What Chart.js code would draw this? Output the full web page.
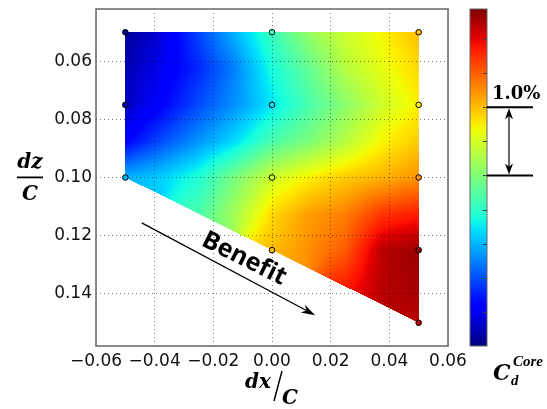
<!DOCTYPE html>
<html>
<head>
<meta charset="utf-8">
<script src="https://cdn.jsdelivr.net/npm/chart.js@4.4.0/dist/chart.umd.min.js"></script>
<style>
  html, body { margin: 0; padding: 0; background: #fff; }
  #wrap { width: 547px; height: 409px; }
</style>
</head>
<body>
<div id="wrap"><canvas id="chart"></canvas></div>
<script>
// colour field: C_d core (%) on a dx/C x dz/C grid, null = outside the tested region
const gridX = [-0.05, -0.0375, -0.025, -0.0125, 0, 0.0125, 0.025, 0.0375, 0.05];
const gridZ = [0.05, 0.0625, 0.075, 0.0875, 0.1, 0.1125, 0.125, 0.1375, 0.15];
const cdGrid = [
  [0.10, 0.40, 0.95, 1.50, 2.07, 2.62, 2.96, 3.21, 3.51],
  [0.22, 0.50, 0.80, 1.25, 1.88, 2.32, 2.82, 3.11, 3.36],
  [0.28, 0.60, 0.98, 1.33, 1.73, 2.17, 2.57, 2.96, 3.24],
  [0.59, 0.99, 1.33, 1.68, 2.17, 2.47, 2.82, 3.21, 3.43],
  [1.48, 1.63, 1.93, 2.47, 2.96, 3.24, 3.43, 3.56, 3.73],
  [null, null, 2.17, 2.72, 3.36, 3.66, 3.83, 4.22, 4.35],
  [null, null, null, null, 3.51, 3.75, 4.03, 4.69, 4.84],
  [null, null, null, null, null, null, 4.35, 4.69, 4.79],
  [null, null, null, null, null, null, null, null, 4.69]
];

// measured positions (black circles)
const pointX = [-0.05, -0.05, -0.05, 0, 0, 0, 0, 0.05, 0.05, 0.05, 0.05, 0.05];
const pointZ = [0.05, 0.075, 0.1, 0.05, 0.075, 0.1, 0.125, 0.05, 0.075, 0.1, 0.125, 0.15];

const xTicks = [-0.06, -0.04, -0.02, 0, 0.02, 0.04, 0.06];
const zTicks = [0.06, 0.08, 0.10, 0.12, 0.14];
const cbTicks = [0.5, 1, 1.5, 2, 2.5, 3, 3.5, 4, 4.5];
const cbMin = 0, cbMax = 4.94;
const spanLow = 2.5, spanHigh = 3.5; // the "1.0%" bracket on the colour bar

// matplotlib jet
const R = [[0, 0], [0.35, 0], [0.66, 1], [0.89, 1], [1, 0.5]];
const G = [[0, 0], [0.125, 0], [0.375, 1], [0.64, 1], [0.91, 0], [1, 0]];
const B = [[0, 0.5], [0.11, 1], [0.34, 1], [0.65, 0], [1, 0]];
function seg(pts, t) {
  for (let i = 1; i < pts.length; i++) {
    if (t <= pts[i][0]) {
      const [x0, y0] = pts[i - 1], [x1, y1] = pts[i];
      return y0 + (y1 - y0) * (t - x0) / (x1 - x0);
    }
  }
  return pts[pts.length - 1][1];
}
function jet(v) {
  const t = Math.min(1, Math.max(0, (v - cbMin) / (cbMax - cbMin)));
  return [seg(R, t), seg(G, t), seg(B, t)].map(c => Math.round(c * 255));
}
const rgb = c => 'rgb(' + c.join(',') + ')';

// lower edge of the region: deepest measured dz at each dx column, joined by straight lines
const cols = [...new Set(pointX)].sort((a, b) => a - b);
const colDepth = cols.map(cx => Math.max(...pointZ.filter((z, i) => pointX[i] === cx)));
function inside(x, z) {
  if (x < cols[0] || x > cols[cols.length - 1] || z < gridZ[0]) return false;
  for (let i = 1; i < cols.length; i++) {
    if (x <= cols[i]) {
      const f = (x - cols[i - 1]) / (cols[i] - cols[i - 1]);
      return z <= colDepth[i - 1] + f * (colDepth[i] - colDepth[i - 1]);
    }
  }
  return false;
}

// bilinear lookup that skips missing corners
function cdAt(x, z) {
  const dx = gridX[1] - gridX[0], dz = gridZ[1] - gridZ[0];
  let fx = (x - gridX[0]) / dx, fz = (z - gridZ[0]) / dz;
  let i0 = Math.min(gridX.length - 2, Math.max(0, Math.floor(fx)));
  let j0 = Math.min(gridZ.length - 2, Math.max(0, Math.floor(fz)));
  const tx = fx - i0, tz = fz - j0;
  let sum = 0, wsum = 0;
  [[0, 0], [1, 0], [0, 1], [1, 1]].forEach(([a, b]) => {
    const v = cdGrid[j0 + b][i0 + a];
    if (v === null) return;
    const w = (a ? tx : 1 - tx) * (b ? tz : 1 - tz) + 1e-6;
    sum += v * w; wsum += w;
  });
  return wsum ? sum / wsum : null;
}

function arrowHead(ctx, x0, y0, x1, y1, len, half) {
  const ang = Math.atan2(y1 - y0, x1 - x0);
  ctx.save();
  ctx.translate(x1, y1);
  ctx.rotate(ang);
  ctx.beginPath();
  ctx.moveTo(0, 0);
  ctx.lineTo(-len, -half);
  ctx.lineTo(-len * 0.7, 0);
  ctx.lineTo(-len, half);
  ctx.closePath();
  ctx.fill();
  ctx.restore();
}

const fieldPlugin = {
  id: 'field',
  beforeDraw(chart) {
    const { ctx, chartArea: a, scales: { x, y } } = chart;
    ctx.save();
    ctx.fillStyle = '#fff';
    ctx.fillRect(0, 0, chart.width, chart.height);
    ctx.restore();
    const w = Math.round(a.right - a.left), h = Math.round(a.bottom - a.top);
    const off = document.createElement('canvas');
    off.width = w; off.height = h;
    const octx = off.getContext('2d');
    const img = octx.createImageData(w, h);
    for (let j = 0; j < h; j++) {
      const zv = y.getValueForPixel(a.top + j + 0.5);
      for (let i = 0; i < w; i++) {
        const xv = x.getValueForPixel(a.left + i + 0.5);
        if (!inside(xv, zv)) continue;
        const v = cdAt(xv, zv);
        if (v === null) continue;
        const c = jet(v);
        const k = (j * w + i) * 4;
        img.data[k] = c[0]; img.data[k + 1] = c[1]; img.data[k + 2] = c[2]; img.data[k + 3] = 255;
      }
    }
    octx.putImageData(img, 0, 0);
    ctx.drawImage(off, a.left, a.top);
  }
};

const overlayPlugin = {
  id: 'overlay',
  afterDraw(chart) {
    const { ctx, chartArea: a, scales: { x, y, c } } = chart;
    ctx.save();

    // frame
    ctx.strokeStyle = '#666';
    ctx.lineWidth = 1.5;
    ctx.strokeRect(a.left, a.top, a.right - a.left, a.bottom - a.top);

    // colour bar
    const cbL = a.right + 22, cbR = a.right + 39;
    const top = c.getPixelForValue(cbMax), bot = c.getPixelForValue(cbMin);
    const grad = ctx.createLinearGradient(0, bot, 0, top);
    for (let s = 0; s <= 60; s++) {
      const v = cbMin + (cbMax - cbMin) * s / 60;
      grad.addColorStop(s / 60, rgb(jet(v)));
    }
    ctx.fillStyle = grad;
    ctx.fillRect(cbL, top, cbR - cbL, bot - top);
    ctx.strokeStyle = '#666';
    ctx.lineWidth = 1;
    ctx.strokeRect(cbL, top, cbR - cbL, bot - top);
    ctx.strokeStyle = '#444';
    cbTicks.forEach(t => {
      const py = Math.round(c.getPixelForValue(t)) + 0.5;
      ctx.beginPath(); ctx.moveTo(cbR - 4, py); ctx.lineTo(cbR, py); ctx.stroke();
    });

    // 1.0% bracket
    const yHi = c.getPixelForValue(spanHigh), yLo = c.getPixelForValue(spanLow);
    ctx.strokeStyle = '#000';
    ctx.fillStyle = '#000';
    ctx.lineWidth = 2;
    ctx.beginPath();
    ctx.moveTo(cbR, yHi); ctx.lineTo(cbR + 46, yHi);
    ctx.moveTo(cbR, yLo); ctx.lineTo(cbR + 46, yLo);
    ctx.stroke();
    const ax = cbR + 22;
    ctx.lineWidth = 1.2;
    ctx.beginPath(); ctx.moveTo(ax, yHi + 6); ctx.lineTo(ax, yLo - 6); ctx.stroke();
    arrowHead(ctx, ax, yLo, ax, yHi + 1, 11, 4);
    arrowHead(ctx, ax, yHi, ax, yLo - 1, 11, 4);
    ctx.font = 'bold 18px "DejaVu Serif"';
    ctx.textAlign = 'left';
    ctx.textBaseline = 'alphabetic';
    ctx.fillText('1.0%', cbR + 5, yHi - 8);

    // colour bar label
    ctx.font = 'bold italic 22px "DejaVu Serif"';
    ctx.fillText('C', cbL + 23, 380);
    ctx.font = 'bold italic 15px "Liberation Serif"';
    ctx.fillText('d', cbL + 41, 385);
    ctx.fillText('Core', cbL + 43, 366);

    // axis titles
    ctx.textAlign = 'center';
    ctx.font = 'bold italic 20px "DejaVu Serif"';
    ctx.fillText('dz', 30, 168);
    ctx.fillRect(17, 176.5, 26, 1.8);
    ctx.fillText('C', 30, 200);
    ctx.fillText('dx', 258, 388);
    ctx.fillText('C', 290, 404);
    ctx.lineWidth = 1.5;
    ctx.beginPath(); ctx.moveTo(282, 371); ctx.lineTo(274, 401); ctx.stroke();

    // Benefit arrow
    const p0 = [x.getPixelForValue(-0.0444), y.getPixelForValue(0.1156)];
    const p1 = [x.getPixelForValue(0.0147), y.getPixelForValue(0.1474)];
    ctx.lineWidth = 1.3;
    ctx.beginPath(); ctx.moveTo(p0[0], p0[1]); ctx.lineTo(p1[0] - 5, p1[1] - 2.7); ctx.stroke();
    arrowHead(ctx, p0[0], p0[1], p1[0], p1[1], 14, 4.5);

    const ang = Math.atan2(y.getPixelForValue(0.15) - y.getPixelForValue(0.1),
                           x.getPixelForValue(0.05) - x.getPixelForValue(-0.05));
    ctx.translate(x.getPixelForValue(-0.0095), y.getPixelForValue(0.1280));
    ctx.rotate(ang);
    ctx.font = 'bold 25px "Open Sans"';
    ctx.textBaseline = 'middle';
    ctx.fillText('Benefit', 0, 0);
    ctx.restore();
  }
};

const fmt = v => (v < 0 ? '\u2212' : '') + Math.abs(v).toFixed(2);

new Chart(document.getElementById('chart'), {
  type: 'scatter',
  data: {
    datasets: [{
      data: pointX.map((px, i) => ({ x: px, y: pointZ[i] })),
      pointRadius: 2.8,
      pointBorderWidth: 1,
      pointBorderColor: '#000',
      pointBackgroundColor: pointX.map((px, i) => rgb(jet(cdAt(px, pointZ[i]))))
    }]
  },
  options: {
    responsive: true,
    maintainAspectRatio: false,
    animation: false,
    events: [],
    layout: { padding: { top: 9, right: 99, left: 0, bottom: 0 } },
    plugins: { legend: { display: false }, tooltip: { enabled: false } },
    scales: {
      x: {
        type: 'linear',
        min: -0.06, max: 0.06,
        afterBuildTicks: s => { s.ticks = xTicks.map(v => ({ value: v })); },
        afterFit: s => { s.height = 63; s.paddingLeft = 0; s.paddingRight = 0; },
        grid: { color: 'rgba(0,0,0,0.5)', drawTicks: false, lineWidth: 1 },
        border: { display: false, dash: [1, 3] },
        ticks: { padding: 5, color: '#111', font: { family: 'DejaVu Sans', size: 17 }, callback: fmt, maxRotation: 0 }
      },
      y: {
        type: 'linear',
        min: 0.042, max: 0.158,
        reverse: true,
        afterBuildTicks: s => { s.ticks = zTicks.map(v => ({ value: v })); },
        afterFit: s => { s.width = 96; s.paddingTop = 0; s.paddingBottom = 0; },
        grid: { color: 'rgba(0,0,0,0.5)', drawTicks: false, lineWidth: 1 },
        border: { display: false, dash: [1, 3] },
        ticks: { padding: 4, color: '#111', font: { family: 'DejaVu Sans', size: 17 }, callback: fmt }
      },
      c: {
        type: 'linear',
        position: 'right',
        display: false,
        min: cbMin, max: cbMax
      }
    }
  },
  plugins: [fieldPlugin, overlayPlugin]
});
</script>
</body>
</html>
